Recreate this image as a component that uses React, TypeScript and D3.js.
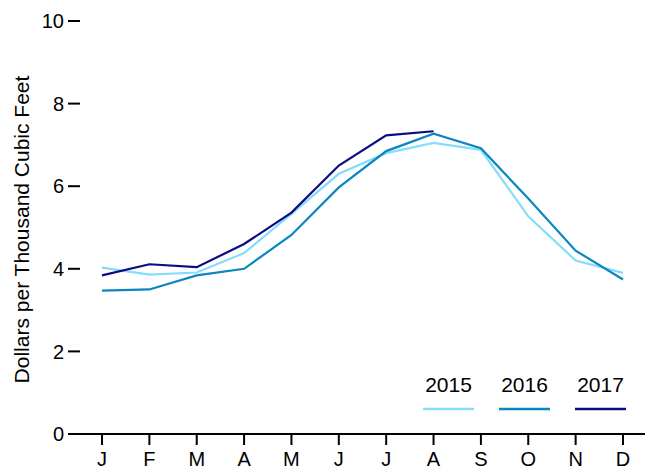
import React from "react";
import * as d3 from "d3";

const months = ["J", "F", "M", "A", "M", "J", "J", "A", "S", "O", "N", "D"];
const years = ["2015", "2016", "2017"];
const values2015 = [4.03, 3.86, 3.91, 4.38, 5.33, 6.3, 6.8, 7.05, 6.88, 5.27, 4.2, 3.9];
const values2016 = [3.47, 3.5, 3.84, 4.0, 4.82, 5.97, 6.85, 7.27, 6.92, 5.7, 4.44, 3.74];
const values2017 = [3.84, 4.11, 4.04, 4.6, 5.36, 6.5, 7.23, 7.33];
const yTicks = [0, 2, 4, 6, 8, 10];
const colors = ["#86dcfb", "#0a86c2", "#0c0c82"];

const width = 650;
const height = 470;
const font = "'Liberation Sans', Arial, sans-serif";

const App: React.FC = () => {
  const x = d3
    .scalePoint<number>()
    .domain(d3.range(months.length))
    .range([102, 623]);
  const y = d3.scaleLinear().domain([0, 10]).range([434, 21]);

  const line = d3
    .line<number>()
    .x((_, i) => x(i) as number)
    .y((d) => y(d));

  const series = [values2015, values2016, values2017];

  // legend layout
  const legendX = d3.scalePoint<number>().domain([0, 1, 2]).range([448.5, 600.5]);

  return (
    <svg
      width={width}
      height={height}
      style={{ position: "absolute", left: 0, top: 0, fontFamily: font }}
    >
      {/* y axis ticks */}
      {yTicks.map((t) => (
        <g key={t}>
          <line x1={68} x2={80} y1={y(t)} y2={y(t)} stroke="#000" strokeWidth={2} />
          <text
            x={64}
            y={y(t)}
            dy="0.36em"
            textAnchor="end"
            fontSize={20}
            fill="#000"
          >
            {t}
          </text>
        </g>
      ))}
      <text
        transform={`translate(29, ${(y(0) + y(10)) / 2 + 2}) rotate(-90)`}
        textAnchor="middle"
        fontSize={21}
        fill="#000"
      >
        Dollars per Thousand Cubic Feet
      </text>

      {/* x axis */}
      <line x1={68} x2={645} y1={y(0)} y2={y(0)} stroke="#000" strokeWidth={2} />
      {months.map((m, i) => (
        <g key={i}>
          <line
            x1={x(i)}
            x2={x(i)}
            y1={y(0)}
            y2={y(0) + 11}
            stroke="#000"
            strokeWidth={2}
          />
          <text
            x={x(i)}
            y={y(0) + 32}
            textAnchor="middle"
            fontSize={20}
            fill="#000"
          >
            {m}
          </text>
        </g>
      ))}

      {/* lines */}
      {series.map((s, k) => (
        <path
          key={k}
          d={line(s) || ""}
          fill="none"
          stroke={colors[k]}
          strokeWidth={2.2}
        />
      ))}

      {/* legend */}
      {years.map((yr, k) => (
        <g key={yr}>
          <text
            x={legendX(k)}
            y={392}
            textAnchor="middle"
            fontSize={21}
            fill="#000"
          >
            {yr}
          </text>
          <line
            x1={(legendX(k) as number) - 25.5}
            x2={(legendX(k) as number) + 25.5}
            y1={409}
            y2={409}
            stroke={colors[k]}
            strokeWidth={2.5}
          />
        </g>
      ))}
    </svg>
  );
};

export default App;
